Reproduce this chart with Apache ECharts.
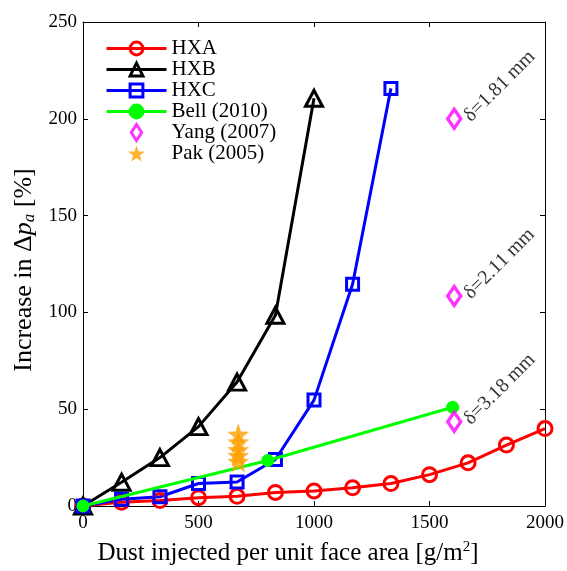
<!DOCTYPE html>
<html><head><meta charset="utf-8">
<script src="https://cdn.jsdelivr.net/npm/echarts@6/dist/echarts.min.js"></script>
<style>html,body{margin:0;padding:0;background:#fff}#c{width:567px;height:571px}</style>
</head><body><div id="c"></div>
<script>
const hxaX=[0,167,333,500,667,833,1000,1167,1333,1500,1667,1833,2000];
const hxaY=[0,2,2.8,4.3,5,7,7.8,9.4,11.6,16.2,22.3,31.5,40];
const hxbX=[0,167,333,500,667,833,1000];
const hxbY=[0,12.3,25,41,64,98.5,210.6];
const hxcX=[0,167,333,500,667,833,1000,1167,1333];
const hxcY=[0,3.5,4.8,11.6,12.4,24,54.7,114.5,215.7];
const bellX=[0,800,1600];
const bellY=[0,23.5,51];
const yangX=[1607,1607,1607];
const yangY=[200,108.5,43.5];
const yangLabels=['δ=1.81 mm','δ=2.11 mm','δ=3.18 mm'];
const pakX=[672,672,672,672,672];
const pakY=[37,33,29,26,23];
const xTicks=[0,500,1000,1500,2000];
const yTicks=[0,50,100,150,200,250];

const FONT='Liberation Serif';
const DIAMOND='path://M0,-10L6.5,0L0,10L-6.5,0Z';
const STAR='path://M0,-10L2.35,-3.24L9.51,-3.09L3.8,1.24L5.88,8.09L0,4L-5.88,8.09L-3.8,1.24L-9.51,-3.09L-2.35,-3.24Z';
const zip=(xs,ys)=>xs.map((x,i)=>[x,ys[i]]);
const chart=echarts.init(document.getElementById('c'),null,{renderer:'canvas'});
const axisCommon={
  axisLine:{show:true,onZero:false,lineStyle:{color:'#000',width:1}},
  axisTick:{show:true,inside:true,length:5,lineStyle:{color:'#000'}},
  splitLine:{show:false}
};
const legItem=(name,c,fill,extra)=>Object.assign({name,lineStyle:{width:3,color:c},itemStyle:{color:fill,borderColor:c,borderWidth:3}},extra||{});
const option={
  backgroundColor:'#fff',
  animation:false,
  textStyle:{fontFamily:FONT},
  grid:{left:83,right:22,top:22,bottom:60,containLabel:false},
  legend:{
    left:100,top:33,orient:'vertical',itemWidth:60,itemHeight:16,itemGap:0,
    textStyle:{fontFamily:FONT,fontSize:21,color:'#000'},
    data:[
      legItem('HXA','#ff0000','rgba(0,0,0,0)'),
      legItem('HXB','#000000','rgba(0,0,0,0)'),
      legItem('HXC','#0000ff','rgba(0,0,0,0)'),
      legItem('Bell (2010)','#00ff00','#00ff00'),
      {name:'Yang (2007)',icon:DIAMOND,itemStyle:{color:'#fff',borderColor:'#ff00ff',borderWidth:3}},
      {name:'Pak (2005)',icon:STAR,itemStyle:{color:'#ffa000',borderWidth:0}}
    ]
  },
  xAxis:[
    Object.assign({type:'value',min:0,max:2000,interval:500,position:'bottom',
      name:'Dust injected per unit face area [g/m{sup|2}]',nameLocation:'middle',nameGap:34,
      nameTextStyle:{fontFamily:FONT,fontSize:25,color:'#000',padding:[0,52,0,0],
        rich:{sup:{fontSize:15,verticalAlign:'top',padding:[0,0,12,0],fontFamily:FONT}}},
      axisLabel:{fontFamily:FONT,fontSize:19,color:'#000',margin:8,
        formatter:v=>xTicks.includes(v)?String(v):''}},axisCommon),
    Object.assign({type:'value',min:0,max:2000,interval:500,position:'top',axisLabel:{show:false}},axisCommon)
  ],
  yAxis:[
    Object.assign({type:'value',min:0,max:250,interval:50,position:'left',
      name:'Increase in Δ{i|p}{s|a} [%]',nameLocation:'middle',nameGap:44,nameRotate:90,
      nameTextStyle:{fontFamily:FONT,fontSize:26,color:'#000',padding:[0,12,0,0],
        rich:{i:{fontStyle:'italic',fontSize:26,fontFamily:FONT},s:{fontStyle:'italic',fontSize:17,fontFamily:FONT,padding:[9,0,0,0]}}},
      axisLabel:{fontFamily:FONT,fontSize:19,color:'#000',margin:6,
        formatter:v=>yTicks.includes(v)?String(v):''}},axisCommon),
    Object.assign({type:'value',min:0,max:250,interval:50,position:'right',axisLabel:{show:false}},axisCommon)
  ],
  series:[
    {name:'HXA',type:'line',data:zip(hxaX,hxaY),symbol:'circle',symbolSize:14,
      lineStyle:{color:'#ff0000',width:3},itemStyle:{color:'rgba(0,0,0,0)',borderColor:'#ff0000',borderWidth:3},z:3},
    {name:'HXB',type:'line',data:zip(hxbX,hxbY),symbol:'triangle',symbolSize:[17,16],
      lineStyle:{color:'#000',width:3},itemStyle:{color:'rgba(0,0,0,0)',borderColor:'#000',borderWidth:3},z:3},
    {name:'HXC',type:'line',data:zip(hxcX,hxcY),symbol:'rect',symbolSize:12,
      lineStyle:{color:'#0000ff',width:3},itemStyle:{color:'rgba(0,0,0,0)',borderColor:'#0000ff',borderWidth:3},z:3},
    {name:'Bell (2010)',type:'line',data:zip(bellX,bellY),symbol:'circle',symbolSize:13,
      lineStyle:{color:'#00ff00',width:3},itemStyle:{color:'#00ff00',borderColor:'#00ff00',borderWidth:0},z:4},
    {name:'Yang (2007)',type:'scatter',data:zip(yangX,yangY),symbol:DIAMOND,symbolSize:[13,19],
      itemStyle:{color:'#fff',borderColor:'#ff00ff',borderWidth:3.5},z:5,
      label:{show:true,position:'right',distance:5,rotate:45,align:'left',verticalAlign:'middle',
        fontFamily:FONT,fontSize:20,color:'#000',formatter:p=>yangLabels[p.dataIndex]}},
    {name:'Pak (2005)',type:'scatter',data:zip(pakX,pakY),symbol:STAR,symbolSize:22,
      itemStyle:{color:'#ffa000'},z:5}
  ]
};
chart.setOption(option);
</script></body></html>
